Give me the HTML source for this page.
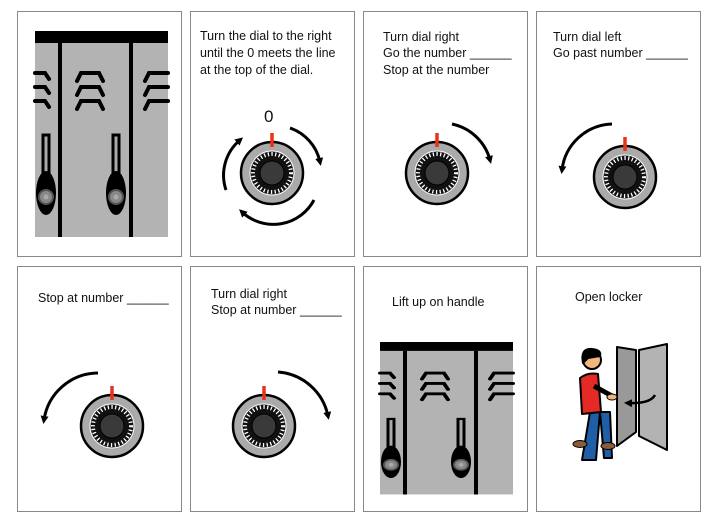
<!DOCTYPE html>
<html><head><style>
html,body{margin:0;padding:0;background:#fff;}
svg{display:block}
text{font-family:"Liberation Sans",sans-serif;font-size:12.5px;fill:#111}
</style></head><body>
<svg width="717" height="521" viewBox="0 0 717 521" xmlns="http://www.w3.org/2000/svg">
<defs>
<marker id="ah" markerWidth="8" markerHeight="8" refX="4" refY="4" orient="auto" markerUnits="userSpaceOnUse" viewBox="0 0 8 8">
<path d="M0,0 L8,4 L0,8 z" fill="#000"/></marker>
<g id="dial">
<circle r="31" fill="#aaa" stroke="#000" stroke-width="2.5"/>
<circle r="22" fill="#111" stroke="#fff" stroke-width="1"/>
<circle r="19" fill="none" stroke="#fff" stroke-width="4" stroke-dasharray="1.3 2.4"/>
<circle r="12" fill="#3a3a3a" stroke="#000"/>
<line x1="0" y1="-40" x2="0" y2="-26" stroke="#e8321b" stroke-width="3.5"/>
</g>
<g id="handle">
<rect x="-3" y="0" width="6" height="38" fill="#aaa" stroke="#000" stroke-width="3"/>
<ellipse cx="0" cy="58" rx="10" ry="22" fill="#000"/>
<circle cx="0" cy="62" r="7" fill="#888" stroke="#555" stroke-width="2"/>
<circle cx="0" cy="62" r="2.5" fill="#aaa"/>
</g>
<g id="locker">
<rect x="0" y="0" width="133" height="206" fill="#b3b3b3"/>
<rect x="0" y="0" width="133" height="12" fill="#000"/>
<line x1="25" y1="12" x2="25" y2="206" stroke="#000" stroke-width="4"/>
<line x1="96" y1="12" x2="96" y2="206" stroke="#000" stroke-width="4"/>
<g fill="none" stroke="#000" stroke-width="4" stroke-linecap="round">
<path d="M0,42 L10,42 L14,48"/><path d="M0,56 L10,56 L14,62"/><path d="M0,70 L10,70 L14,76"/>
<path d="M42,50 L46,42 L64,42 L68,50"/><path d="M42,64 L46,56 L64,56 L68,64"/><path d="M42,78 L46,70 L64,70 L68,78"/>
<path d="M110,50 L114,42 L133,42"/><path d="M110,64 L114,56 L133,56"/><path d="M110,78 L114,70 L133,70"/>
</g>
<use href="#handle" x="11" y="104"/>
<use href="#handle" x="81" y="104"/>
</g>
</defs>
<g fill="#fff" stroke="#888" stroke-width="1">
<rect x="17.5" y="11.5" width="164" height="245"/>
<rect x="190.5" y="11.5" width="164" height="245"/>
<rect x="363.5" y="11.5" width="164" height="245"/>
<rect x="536.5" y="11.5" width="164" height="245"/>
<rect x="17.5" y="266.5" width="164" height="245"/>
<rect x="190.5" y="266.5" width="164" height="245"/>
<rect x="363.5" y="266.5" width="164" height="245"/>
<rect x="536.5" y="266.5" width="164" height="245"/>
</g>
<use href="#locker" x="35" y="31"/>
<text x="200" y="40">Turn the dial to the right</text>
<text x="200" y="57">until the 0 meets the line</text>
<text x="200" y="74">at the  top of the dial.</text>
<text x="264" y="122" style="font-size:17px">0</text>
<use href="#dial" x="272" y="173"/>
<g fill="none" stroke="#000" stroke-width="3">
<path d="M226,190 A46,46 0 0 1 240,140" marker-end="url(#ah)"/>
<path d="M290,128 A46,46 0 0 1 320,162" marker-end="url(#ah)"/>
<path d="M314,200 A46,46 0 0 1 242,212" marker-end="url(#ah)"/>
</g>
<text x="383" y="41">Turn dial right</text>
<text x="383" y="57">Go the number ______</text>
<text x="383" y="74">Stop at the number</text>
<use href="#dial" x="437" y="173"/>
<path d="M452,124 A50,50 0 0 1 490,160" fill="none" stroke="#000" stroke-width="3" marker-end="url(#ah)"/>
<text x="553" y="41">Turn dial left</text>
<text x="553" y="57">Go past number ______</text>
<use href="#dial" x="625" y="177"/>
<path d="M612,124 A52,52 0 0 0 562,170" fill="none" stroke="#000" stroke-width="3" marker-end="url(#ah)"/>
<text x="38" y="302">Stop at number ______</text>
<use href="#dial" x="112" y="426"/>
<path d="M98,373 A55,55 0 0 0 44,420" fill="none" stroke="#000" stroke-width="3" marker-end="url(#ah)"/>
<text x="211" y="298">Turn dial right</text>
<text x="211" y="314">Stop at number ______</text>
<use href="#dial" x="264" y="426"/>
<path d="M278,372 A55,55 0 0 1 328,416" fill="none" stroke="#000" stroke-width="3" marker-end="url(#ah)"/>
<text x="392" y="306">Lift up on handle</text>
<g transform="translate(380,342) scale(1,0.74)"><use href="#locker"/></g>
<text x="575" y="301">Open locker</text>
<g stroke="#000" stroke-width="2" stroke-linejoin="round">
<path d="M617,347 L636,350 L636,432 L617,446 Z" fill="#999"/>
<path d="M639,350 L667,344 L667,450 L639,436 Z" fill="#b3b3b3"/>
<path d="M582,460 L590,412 L600,412 L596,460 Z" fill="#1f5fa8"/>
<path d="M600,412 L610,412 L612,458 L604,458 Z" fill="#1f5fa8"/>
<path d="M580,378 Q588,372 598,374 L601,412 L582,414 Z" fill="#e32a24"/>
<path d="M594,386 L612,396" stroke="#000" stroke-width="5"/>
<ellipse cx="612" cy="397" rx="5" ry="3" fill="#f0b87e" stroke-width="1"/>
<circle cx="592" cy="360" r="9" fill="#f0b87e"/>
<path d="M583,363 Q580,348 592,349 Q602,350 600,356 L588,358 Z" fill="#000"/>
<ellipse cx="580" cy="444" rx="7" ry="3.5" fill="#8a5a3a" stroke-width="1"/>
<ellipse cx="608" cy="446" rx="7" ry="3.5" fill="#8a5a3a" stroke-width="1"/>
</g>
<path d="M655,395 Q650,404 628,403" fill="none" stroke="#000" stroke-width="2.5" marker-end="url(#ah)"/>
</svg>
</body></html>
